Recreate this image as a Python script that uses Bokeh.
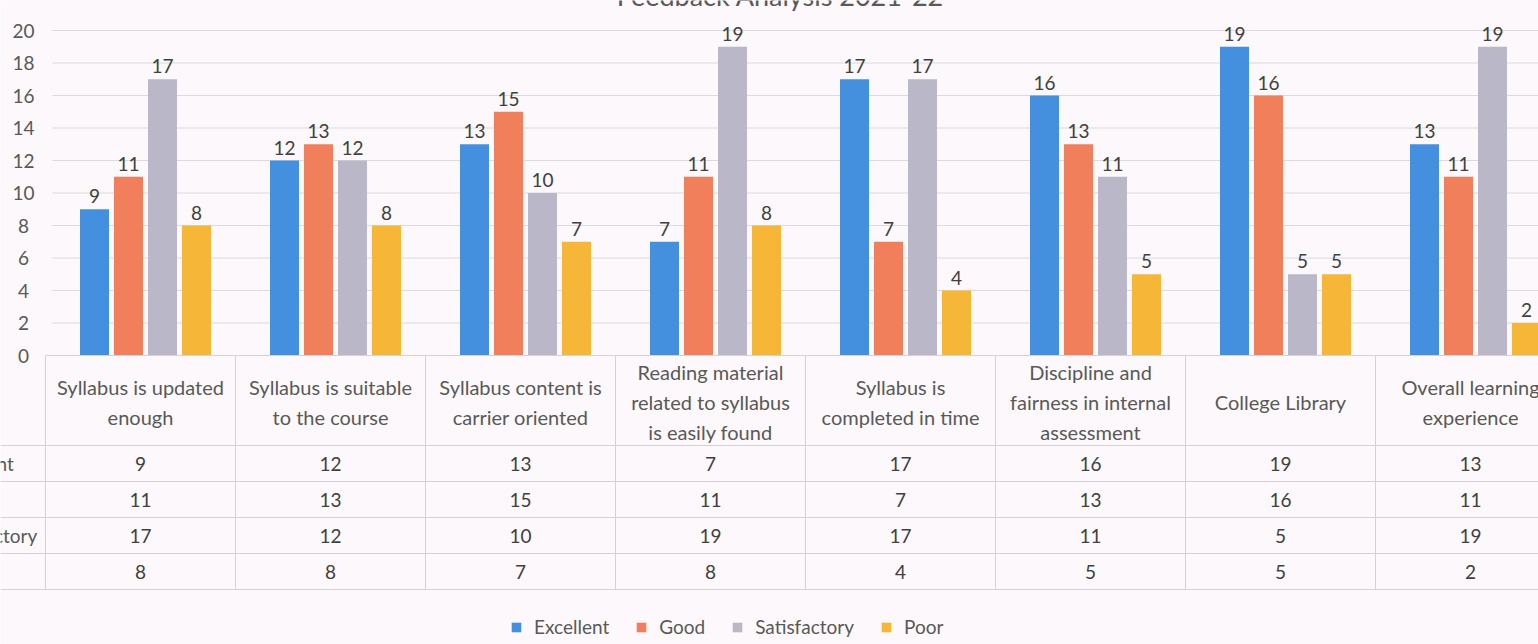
from bokeh.plotting import figure
from bokeh.models import Range1d, Legend, LegendItem
from bokeh.core.properties import value
from bokeh.embed import file_html
from bokeh.resources import INLINE

# ---------------- data ----------------
title_text = "Feedback Analysis 2021-22"
categories = [
    "Syllabus is updated\nenough",
    "Syllabus is suitable\nto the course",
    "Syllabus content is\ncarrier oriented",
    "Reading material\nrelated to syllabus\nis easily found",
    "Syllabus is\ncompleted in time",
    "Discipline and\nfairness in internal\nassessment",
    "College Library",
    "Overall learning\nexperience",
]
series_names = ["Excellent", "Good", "Satisfactory", "Poor"]
excellent = [9, 12, 13, 7, 17, 16, 19, 13]
good = [11, 13, 15, 11, 7, 13, 16, 11]
satisfactory = [17, 12, 10, 19, 17, 11, 5, 19]
poor = [8, 8, 7, 8, 4, 5, 5, 2]
y_ticks = [0, 2, 4, 6, 8, 10, 12, 14, 16, 18, 20]

series_values = [excellent, good, satisfactory, poor]
colors = ["#4590de", "#f27f5b", "#bab7c8", "#f6b638"]

# ---------------- layout helpers ----------------
W, H = 1538, 644
CAT_W = 190.0     # px per category
X0 = 45.0         # x of first category cell
Y0 = 355.0        # y of value 0
UNIT = 16.25      # px per value unit


def px(sx):
    return (sx - X0) / CAT_W


def py(sy):
    return (Y0 - sy) / UNIT


BG = "#fcf8fb"
TXT = "#595959"
NUM = "#404040"
FONT = value("Lato")
LINE = "#d4d2d6"

p = figure(
    width=W, height=H,
    x_range=Range1d(px(0), px(W)),
    y_range=Range1d(py(H), py(0)),
    output_backend="svg", toolbar_location=None,
    x_axis_location=None, y_axis_location=None,
    min_border=0, outline_line_color=None,
    background_fill_color=BG, border_fill_color=BG,
)
p.xgrid.visible = False
p.ygrid.visible = False

n = len(categories)
centers = [i + 0.5 for i in range(n)]
x_end = px(W)

# gridlines
grid_vals = [t for t in y_ticks if t > 0]
p.segment(x0=[px(52)] * len(grid_vals), x1=[x_end] * len(grid_vals),
          y0=grid_vals, y1=grid_vals, line_color="#dcdadf", line_width=1)

# y tick labels
p.text(x=[px(23)] * len(y_ticks), y=y_ticks, text=[str(t) for t in y_ticks],
       text_align="center", text_baseline="middle", text_font=FONT,
       text_font_size="19px", text_color=TXT)

# bars + data labels
STEP = 34.0 / CAT_W
BW = 29.0 / CAT_W
SHIFT = 5.0 / CAT_W
renderers = []
for k, (name, vals, col) in enumerate(zip(series_names, series_values, colors)):
    xs = [c + SHIFT + (k - 1.5) * STEP for c in centers]
    r = p.vbar(x=xs, top=vals, bottom=0, width=BW, fill_color=col, line_color=None)
    renderers.append(r)
    p.text(x=xs, y=vals, text=[str(v) for v in vals], y_offset=-6,
           text_align="center", text_baseline="bottom", text_font=FONT,
           text_font_size="19px", text_color=NUM)

# data table
row_lines = [445, 481, 517, 553, 589]
row_centers = [py((a + b) / 2) for a, b in zip(row_lines[:-1], row_lines[1:])]
p.segment(x0=[px(45)], x1=[x_end], y0=[0], y1=[0], line_color=LINE, line_width=1)
p.segment(x0=[px(0)] * len(row_lines), x1=[x_end] * len(row_lines),
          y0=[py(v) for v in row_lines], y1=[py(v) for v in row_lines],
          line_color=LINE, line_width=1)
vx = [float(i) for i in range(n + 1)]
p.segment(x0=vx, x1=vx, y0=[0] * len(vx), y1=[py(589)] * len(vx),
          line_color=LINE, line_width=1)

# category headers
p.text(x=centers, y=[py(401)] * n, text=categories, text_align="center",
       text_baseline="middle", text_font=FONT, text_font_size="20px",
       text_color=TXT, text_line_height=1.25)

# row labels (mostly cut off at the left edge, as in the photo)
p.text(x=[px(-62)] * 4, y=row_centers, text=series_names, text_align="left",
       text_baseline="middle", text_font=FONT, text_font_size="19px",
       text_color=TXT)

# table values
for vals, yc in zip(series_values, row_centers):
    p.text(x=centers, y=[yc] * n, text=[str(v) for v in vals],
           text_align="center", text_baseline="middle", text_font=FONT,
           text_font_size="19px", text_color=NUM)

# title (cut at the top, as in the photo)
p.text(x=[px(780)], y=[py(11)], text=[title_text], text_align="center",
       text_baseline="bottom", text_font=FONT, text_font_size="27px",
       text_color=TXT)

# legend
legend = Legend(
    items=[LegendItem(label=nm, renderers=[r]) for nm, r in zip(series_names, renderers)],
    orientation="horizontal", location=(510, 6),
    label_text_font="Lato", label_text_font_size="19px", label_text_color=TXT,
    glyph_width=12, glyph_height=12, label_standoff=12, spacing=26,
    padding=0, margin=0, border_line_color=None, background_fill_alpha=0,
)
p.add_layout(legend, "center")

open("out.html", "w").write(file_html(p, INLINE))
